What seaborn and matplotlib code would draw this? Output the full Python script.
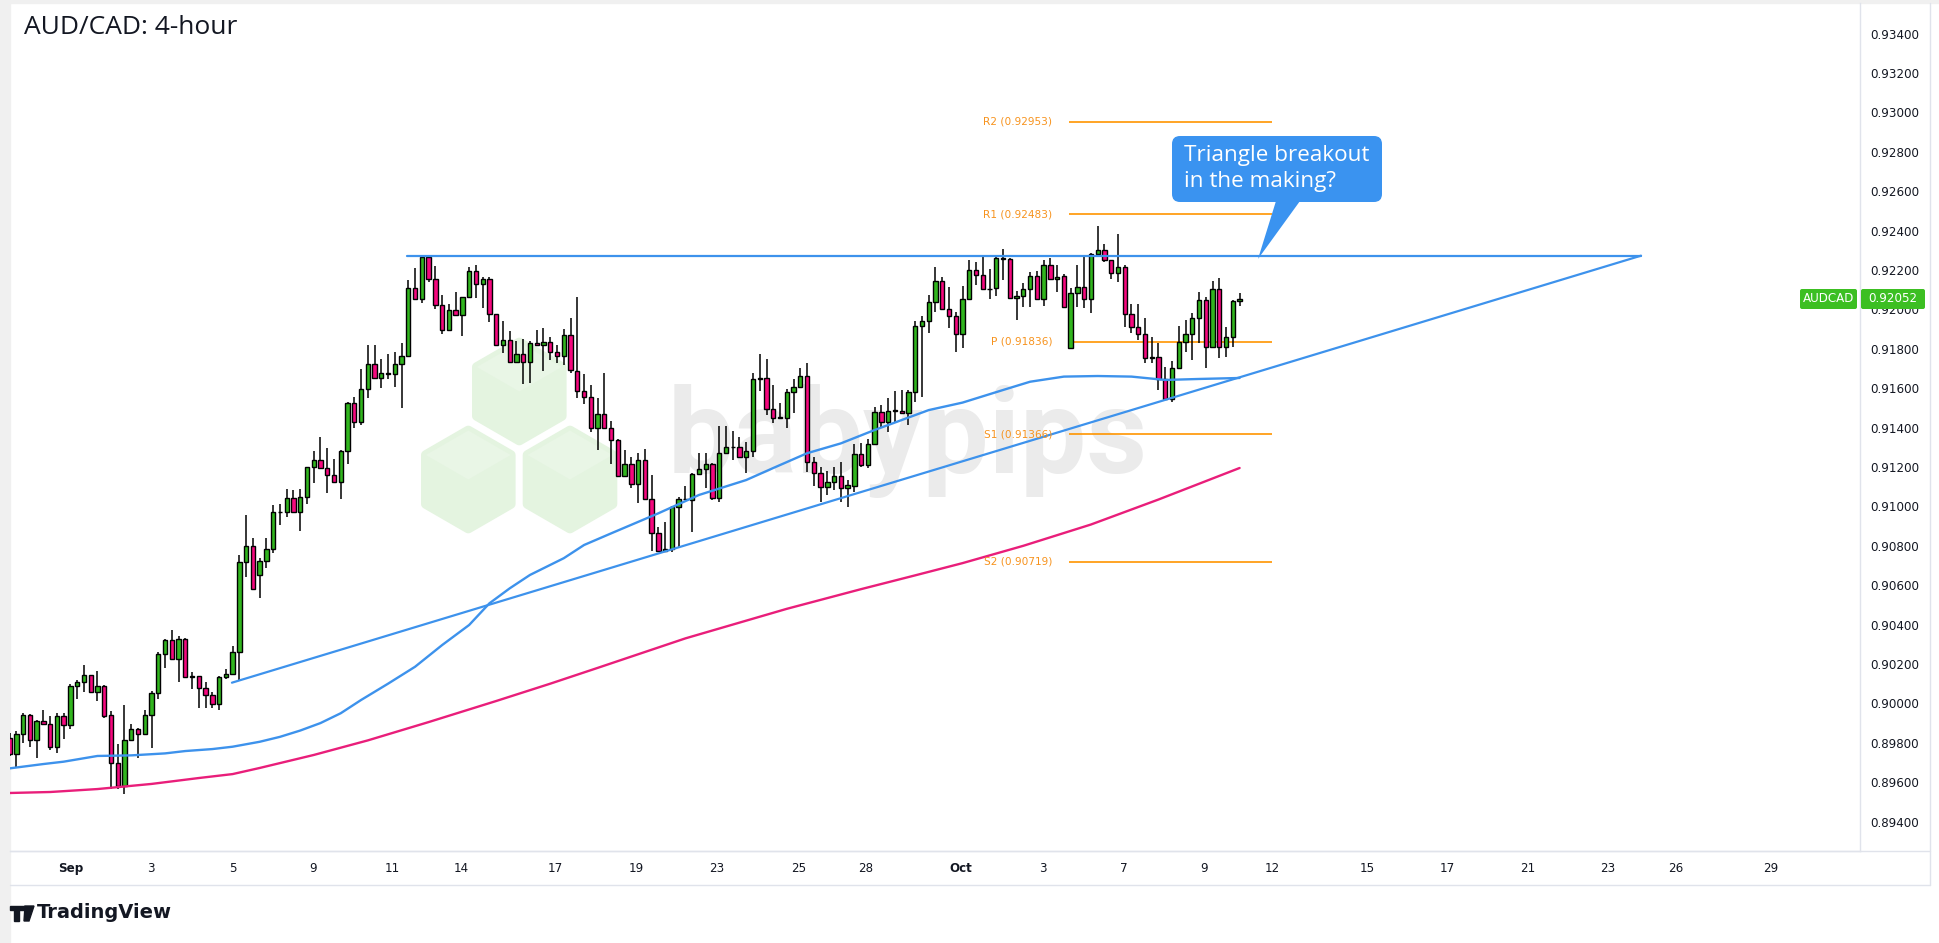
import numpy as np
import matplotlib
matplotlib.use("Agg")
import matplotlib.pyplot as plt
import seaborn as sns
from matplotlib.patches import Polygon, FancyBboxPatch, Rectangle
from matplotlib.lines import Line2D
from matplotlib.transforms import Affine2D

# ---------------- data (AUD/CAD 4-hour candles) ----------------
open_ = [0.89823,0.89741,0.89843,0.89939,0.89814,0.89911,0.89894,0.89780,0.89934,0.89889,
         0.90086,0.90106,0.90142,0.90056,0.90086,0.89939,0.89696,0.89581,0.89814,0.89868,
         0.89843,0.89939,0.90051,0.90249,0.90322,0.90224,0.90327,0.90136,0.90138,0.90077,
         0.90041,0.89995,0.90133,0.90148,0.90259,0.90716,0.90797,0.90651,0.90723,0.90782,
         0.90970,0.90970,0.91041,0.90973,0.91049,0.91199,0.91236,0.91193,0.91158,0.91122,
         0.91281,0.91525,0.91427,0.91595,0.91721,0.91650,0.91676,0.91674,0.91721,0.91764,
         0.92107,0.92051,0.92265,0.92153,0.92021,0.91896,0.91995,0.91972,0.92062,0.92195,
         0.92127,0.92153,0.91975,0.91818,0.91845,0.91735,0.91772,0.91732,0.91828,0.91818,
         0.91833,0.91785,0.91764,0.91869,0.91689,0.91586,0.91554,0.91397,0.91468,0.91400,
         0.91335,0.91156,0.91214,0.91112,0.91234,0.91036,0.90863,0.90775,0.90782,0.90995,
         0.91036,0.91033,0.91163,0.91188,0.91214,0.91041,0.91270,0.91303,0.91301,0.91252,
         0.91283,0.91647,0.91650,0.91493,0.91450,0.91447,0.91579,0.91605,0.91661,0.91224,
         0.91168,0.91100,0.91122,0.91154,0.91092,0.91105,0.91265,0.91210,0.91315,0.91478,
         0.91427,0.91484,0.91486,0.91473,0.91579,0.91914,0.91941,0.92036,0.92143,0.92001,
         0.91969,0.91874,0.92053,0.92200,0.92173,0.92104,0.92107,0.92260,0.92255,0.92057,
         0.92070,0.92104,0.92170,0.92051,0.92226,0.92153,0.92170,0.91803,0.92082,0.92115,
         0.92054,0.92281,0.92302,0.92251,0.92183,0.92214,0.91975,0.91909,0.91874,0.91752,
         0.91757,0.91647,0.91544,0.91701,0.91833,0.91874,0.91955,0.92048,0.91811,0.92102,
         0.91811,0.91862,0.92043]
high = [0.89848,0.89861,0.89949,0.89946,0.89916,0.89966,0.89936,0.89952,0.89949,0.90098,
        0.90119,0.90195,0.90145,0.90164,0.90093,0.89961,0.89794,0.89992,0.89894,0.89873,
        0.89966,0.90064,0.90262,0.90328,0.90372,0.90344,0.90330,0.90161,0.90140,0.90110,
        0.90059,0.90140,0.90173,0.90291,0.90753,0.90956,0.90838,0.90737,0.90838,0.91007,
        0.91011,0.91087,0.91083,0.91087,0.91200,0.91281,0.91351,0.91295,0.91241,0.91286,
        0.91530,0.91554,0.91696,0.91819,0.91819,0.91748,0.91774,0.91782,0.91828,0.92149,
        0.92209,0.92268,0.92271,0.92221,0.92073,0.92026,0.92087,0.92064,0.92214,0.92226,
        0.92163,0.92163,0.91977,0.91941,0.91891,0.91840,0.91850,0.91840,0.91896,0.91904,
        0.91862,0.91818,0.91901,0.91955,0.92062,0.91672,0.91616,0.91549,0.91676,0.91435,
        0.91342,0.91286,0.91252,0.91270,0.91290,0.91159,0.90897,0.90919,0.91002,0.91046,
        0.91104,0.91168,0.91270,0.91270,0.91219,0.91408,0.91408,0.91383,0.91354,0.91328,
        0.91676,0.91774,0.91748,0.91616,0.91523,0.91596,0.91647,0.91701,0.91727,0.91252,
        0.91202,0.91180,0.91202,0.91227,0.91134,0.91315,0.91323,0.91341,0.91506,0.91515,
        0.91549,0.91586,0.91591,0.91591,0.91943,0.91968,0.92073,0.92217,0.92166,0.92115,
        0.91988,0.92119,0.92251,0.92241,0.92268,0.92205,0.92277,0.92307,0.92261,0.92094,
        0.92133,0.92192,0.92197,0.92251,0.92260,0.92226,0.92180,0.92107,0.92226,0.92277,
        0.92285,0.92424,0.92331,0.92253,0.92383,0.92226,0.92026,0.92026,0.91955,0.91862,
        0.91831,0.91709,0.91738,0.91916,0.91946,0.91980,0.92087,0.92065,0.92144,0.92158,
        0.91912,0.92048,0.92082]
low = [0.89735,0.89673,0.89800,0.89780,0.89724,0.89894,0.89763,0.89749,0.89819,0.89872,
       0.90024,0.90058,0.90052,0.90012,0.89924,0.89564,0.89564,0.89538,0.89809,0.89721,
       0.89843,0.89771,0.90021,0.90181,0.90224,0.90110,0.90130,0.90072,0.89975,0.89975,
       0.89975,0.89966,0.90122,0.90148,0.90115,0.90640,0.90579,0.90534,0.90686,0.90762,
       0.90906,0.90948,0.90970,0.90877,0.91012,0.91120,0.91188,0.91069,0.91122,0.91036,
       0.91214,0.91397,0.91413,0.91549,0.91650,0.91603,0.91645,0.91608,0.91498,0.91762,
       0.92051,0.92034,0.92141,0.92001,0.91874,0.91891,0.91970,0.91867,0.92057,0.92057,
       0.92009,0.91938,0.91815,0.91777,0.91727,0.91733,0.91620,0.91625,0.91816,0.91689,
       0.91743,0.91730,0.91718,0.91676,0.91549,0.91518,0.91379,0.91285,0.91398,0.91215,
       0.91154,0.91154,0.91095,0.91019,0.91033,0.90775,0.90772,0.90767,0.90767,0.90787,
       0.91033,0.90872,0.91163,0.91092,0.91033,0.91024,0.91268,0.91236,0.91250,0.91171,
       0.91249,0.91587,0.91464,0.91425,0.91442,0.91397,0.91476,0.91603,0.91173,0.91105,
       0.91021,0.91058,0.91083,0.91024,0.90999,0.91074,0.91202,0.91195,0.91313,0.91397,
       0.91379,0.91430,0.91469,0.91413,0.91532,0.91554,0.91882,0.91988,0.91999,0.91907,
       0.91785,0.91803,0.92051,0.92124,0.92100,0.92053,0.92070,0.92149,0.92055,0.91946,
       0.92014,0.92014,0.92049,0.92019,0.92150,0.92090,0.92009,0.91801,0.92011,0.92006,
       0.91980,0.92265,0.92242,0.92154,0.92141,0.91912,0.91882,0.91845,0.91727,0.91727,
       0.91591,0.91542,0.91529,0.91699,0.91785,0.91743,0.91828,0.91701,0.91809,0.91752,
       0.91760,0.91811,0.92016]
close = [0.89741,0.89843,0.89939,0.89814,0.89911,0.89894,0.89780,0.89934,0.89889,0.90088,
         0.90106,0.90142,0.90056,0.90088,0.89937,0.89696,0.89581,0.89814,0.89868,0.89843,
         0.89939,0.90051,0.90249,0.90322,0.90224,0.90327,0.90133,0.90138,0.90077,0.90041,
         0.89995,0.90133,0.90148,0.90259,0.90716,0.90797,0.90579,0.90723,0.90782,0.90970,
         0.90972,0.91041,0.90973,0.91049,0.91199,0.91236,0.91193,0.91158,0.91122,0.91281,
         0.91525,0.91427,0.91595,0.91721,0.91650,0.91676,0.91674,0.91721,0.91764,0.92107,
         0.92051,0.92265,0.92153,0.92021,0.91896,0.91995,0.91972,0.92062,0.92195,0.92127,
         0.92153,0.91975,0.91818,0.91845,0.91735,0.91772,0.91732,0.91828,0.91818,0.91833,
         0.91785,0.91764,0.91869,0.91693,0.91586,0.91554,0.91397,0.91468,0.91400,0.91335,
         0.91156,0.91214,0.91112,0.91234,0.91036,0.90863,0.90775,0.90782,0.90995,0.91036,
         0.91038,0.91163,0.91188,0.91214,0.91041,0.91270,0.91303,0.91301,0.91252,0.91283,
         0.91647,0.91650,0.91493,0.91450,0.91454,0.91579,0.91605,0.91661,0.91224,0.91168,
         0.91100,0.91122,0.91154,0.91092,0.91109,0.91265,0.91210,0.91315,0.91478,0.91427,
         0.91484,0.91486,0.91473,0.91579,0.91914,0.91941,0.92036,0.92143,0.92001,0.91969,
         0.91874,0.92053,0.92200,0.92173,0.92102,0.92102,0.92260,0.92258,0.92057,0.92070,
         0.92104,0.92170,0.92051,0.92226,0.92153,0.92166,0.92011,0.92082,0.92115,0.92054,
         0.92281,0.92302,0.92251,0.92183,0.92214,0.91975,0.91909,0.91874,0.91752,0.91760,
         0.91647,0.91544,0.91701,0.91833,0.91874,0.91955,0.92048,0.91811,0.92102,0.91811,
         0.91862,0.92043,0.92052]

# 100-period (blue) and 200-period (pink) moving averages, read at sample candles
ma100_idx = [0, 5, 8, 13, 18, 23, 26, 30, 33, 37, 40, 43, 46, 49, 52, 56, 60, 64, 68, 71,
             74, 77, 82, 85, 89, 96, 102, 109, 113, 118, 123, 128, 136, 141, 147, 151, 156,
             161, 166, 171, 176, 182]
ma100_val = [0.89670, 0.89692, 0.89704, 0.89733, 0.89736, 0.89746, 0.89758, 0.89768, 0.89780,
             0.89805, 0.89830, 0.89862, 0.89900, 0.89950, 0.90017, 0.90100, 0.90186, 0.90296,
             0.90398, 0.90508, 0.90584, 0.90652, 0.90737, 0.90804, 0.90863, 0.90965, 0.91058,
             0.91134, 0.91195, 0.91270, 0.91320, 0.91388, 0.91489, 0.91527, 0.91591, 0.91633,
             0.91659, 0.91662, 0.91659, 0.91642, 0.91647, 0.91652]
ma200_idx = [0, 6, 13, 21, 28, 33, 37, 45, 53, 62, 72, 80, 87, 100, 115, 126, 134, 141, 150,
             160, 170, 182]
ma200_val = [0.89545, 0.89550, 0.89565, 0.89591, 0.89621, 0.89641, 0.89672, 0.89738, 0.89812,
             0.89905, 0.90012, 0.90100, 0.90180, 0.90330, 0.90480, 0.90580, 0.90650, 0.90712,
             0.90800, 0.90908, 0.91035, 0.91195]

pivot_names = ["R2", "R1", "P", "S1", "S2"]
pivot_vals = [0.92953, 0.92483, 0.91836, 0.91366, 0.90719]

resistance_val = 0.92273
support_x = [32.9, 241.4]
support_y = [0.90105, 0.92273]
resistance_x = [58.8, 241.4]

date_labels = ["Sep", "3", "5", "9", "11", "14", "17", "19", "23", "25", "28",
               "Oct", "3", "7", "9", "12", "15", "17", "21", "23", "26", "29"]
date_pos = [9.0, 20.9, 33.0, 44.9, 56.7, 66.8, 80.7, 92.8, 104.7, 116.7, 126.7,
            140.8, 152.9, 164.8, 176.7, 186.8, 200.9, 212.7, 224.7, 236.5, 246.6, 260.6]
price_ticks = [0.894, 0.896, 0.898, 0.900, 0.902, 0.904, 0.906, 0.908, 0.910, 0.912, 0.914,
               0.916, 0.918, 0.920, 0.922, 0.924, 0.926, 0.928, 0.930, 0.932, 0.934]
symbol = "AUDCAD"
last_price = 0.92052

# ---------------- styling ----------------
W, H = 1940, 943
GREEN = "#31b51e"
PINK = "#f5087e"
BLUE = "#3d92ec"
MAPINK = "#e91e7a"
ORANGE = "#ff9500"
TXT = "#131722"
GRID = "#e0e3eb"

sns.set_theme(style="white")
plt.rcParams["font.family"] = ["DejaVu Sans"]

fig = plt.figure(figsize=(W / 100, H / 100), dpi=100)
fig.patch.set_facecolor("white")
PX = Affine2D().scale(1, -1).translate(0, H)  # pixel coords measured from top-left


def fr(x0, y0, x1, y1):
    return [x0 / W, 1 - y1 / H, (x1 - x0) / W, (y1 - y0) / H]


# outer light frame
fig.patches.append(Rectangle((0, 0), W, 3, transform=PX, color="#f0f0f0", zorder=-5))
fig.patches.append(Rectangle((0, 0), 10, H, transform=PX, color="#f0f0f0", zorder=-5))

ax = fig.add_axes(fr(10, 3, 1860, 851))
ax.set_facecolor("none")

# watermark (babypips logo)
hex_centers = [(519.3, 391.5), (468.3, 479.5), (570.0, 479.5)]
R = 49
for cx, cy in hex_centers:
    pts = [(cx + R * np.cos(np.radians(a)), cy + R * np.sin(np.radians(a)))
           for a in (30, 90, 150, 210, 270, 330)]
    ax.add_patch(Polygon(pts, closed=True, transform=PX, facecolor="#e4f4e0",
                         edgecolor="#e4f4e0", lw=7, joinstyle="round", zorder=0.5, clip_on=False))
    top = [(cx, cy - R), (cx + R * 0.866, cy - R / 2), (cx, cy), (cx - R * 0.866, cy - R / 2)]
    ax.add_patch(Polygon(top, closed=True, transform=PX, facecolor="#e9f6e6",
                         edgecolor="none", zorder=0.55, clip_on=False))
ax.text(668 / W, 1 - 473 / H, "babypips", transform=fig.transFigure, fontsize=85,
        fontweight="bold", family="Roboto", color="#ebebeb", ha="left", va="baseline", zorder=0.6)

# candles
n = len(open_)
idx = np.arange(n)
o = np.array(open_)
c = np.array(close)
hi = np.array(high)
lo = np.array(low)
up = c >= o
ax.vlines(idx, lo, hi, color="black", lw=1.1, zorder=3)
bottoms = np.minimum(o, c)
heights = np.maximum(np.abs(c - o), 0.00003)
ax.bar(idx, heights, bottom=bottoms, width=0.64, color=np.where(up, GREEN, PINK),
       edgecolor="black", linewidth=1.0, zorder=4)

# moving averages
sns.lineplot(x=ma100_idx, y=ma100_val, ax=ax, color=BLUE, lw=1.7, zorder=5)
sns.lineplot(x=ma200_idx, y=ma200_val, ax=ax, color=MAPINK, lw=1.7, zorder=5)

# triangle lines
sns.lineplot(x=support_x, y=support_y, ax=ax, color=BLUE, lw=1.6, zorder=5)
sns.lineplot(x=resistance_x, y=[resistance_val, resistance_val], ax=ax, color=BLUE, lw=1.6, zorder=5)

# pivot levels
for name, val in zip(pivot_names, pivot_vals):
    ax.hlines(val, 156.8, 186.8, color=ORANGE, lw=1.2, zorder=2)
    ax.text(154.3, val, f"{name} ({val:.5f})", ha="right", va="center",
            color="#f7931e", fontsize=7.6, zorder=6)

# axes limits / ticks
ax.set_xlim(0.06, 273.8)
ax.set_ylim(0.892505, 0.935558)
ax.yaxis.tick_right()
ax.set_yticks(price_ticks)
ax.set_yticklabels([f"{v:.5f}" for v in price_ticks])
ax.set_xticks(date_pos)
ax.set_xticklabels(date_labels)
for lab in ax.get_xticklabels():
    if lab.get_text() in ("Sep", "Oct"):
        lab.set_fontweight("bold")
ax.tick_params(axis="y", length=0, pad=7.5, labelsize=8.6, labelcolor=TXT)
ax.tick_params(axis="x", length=0, pad=8, labelsize=8.6, labelcolor=TXT)
for s in ("top", "left"):
    ax.spines[s].set_visible(False)
for s in ("bottom", "right"):
    ax.spines[s].set_color(GRID)
    ax.spines[s].set_linewidth(1.0)
ax.grid(False)

# extra separators of the price-axis panel
fig.lines.append(Line2D([10, 1930], [851, 851], transform=PX, color=GRID, lw=1.0))
fig.lines.append(Line2D([1930, 1930], [3, 885], transform=PX, color=GRID, lw=1.0))
fig.lines.append(Line2D([10, 1930], [885, 885], transform=PX, color=GRID, lw=1.0))

# title
fig.text(24 / W, 1 - 28 / H, "AUD/CAD: 4-hour", fontsize=19, family="Open Sans",
         color=TXT, ha="left", va="center")

# callout
fig.patches.append(FancyBboxPatch((1176, 140), 202, 58, boxstyle="round,pad=4,rounding_size=8",
                                  transform=PX, facecolor="#3a93f0", edgecolor="none", zorder=8))
fig.patches.append(Polygon([(1276, 201), (1300, 201), (1258, 259)], closed=True, transform=PX,
                           facecolor="#3a93f0", edgecolor="none", zorder=8))
fig.text(1184 / W, 1 - 156 / H, "Triangle breakout", fontsize=16.2, family="Open Sans",
         color="white", ha="left", va="center", zorder=9)
fig.text(1184 / W, 1 - 181 / H, "in the making?", fontsize=16.2, family="Open Sans",
         color="white", ha="left", va="center", zorder=9)

# last price tags
fig.patches.append(FancyBboxPatch((1800, 289), 57, 20, boxstyle="round,pad=0,rounding_size=2",
                                  transform=PX, facecolor="#3cbf22", edgecolor="none", zorder=8))
fig.patches.append(FancyBboxPatch((1861, 289), 64, 20, boxstyle="round,pad=0,rounding_size=2",
                                  transform=PX, facecolor="#3cbf22", edgecolor="none", zorder=8))
fig.text(1828.5 / W, 1 - 299 / H, symbol, fontsize=8.6, color="white", ha="center",
         va="center", zorder=9)
fig.text(1893 / W, 1 - 299 / H, f"{last_price:.5f}", fontsize=8.6, color="white",
         ha="center", va="center", zorder=9)

# TradingView logo
fig.patches.append(Polygon([(10, 906), (24, 906), (24, 910), (19, 910), (19, 921), (14, 921),
                            (14, 910), (10, 910)], closed=True, transform=PX, color="#131722"))
fig.patches.append(Polygon([(25, 906), (34, 906), (29, 921), (24, 921)], closed=True,
                           transform=PX, color="#131722"))
fig.text(37 / W, 1 - 913 / H, "TradingView", fontsize=14, fontweight="bold",
         color="#131722", ha="left", va="center")

fig.savefig("out.png", dpi=100, facecolor=fig.get_facecolor())
